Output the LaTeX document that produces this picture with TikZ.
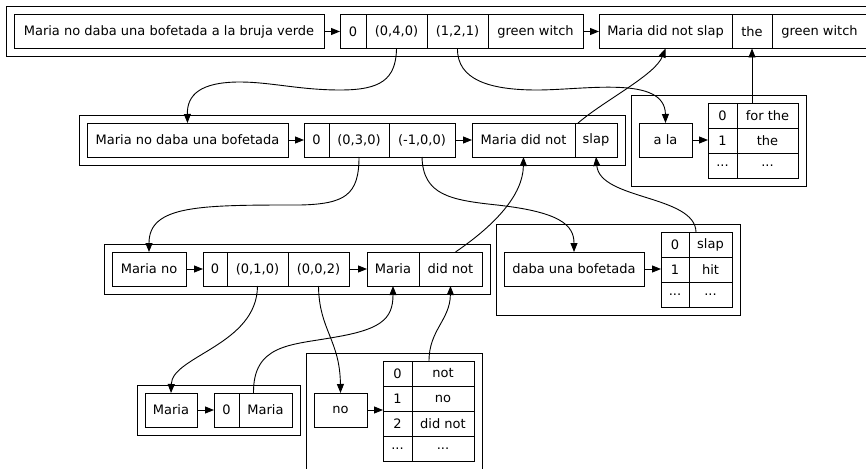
\documentclass[tikz,border=0pt]{standalone}
\usepackage{fontspec}
\setmainfont{DejaVu Sans}
\usepackage{tikz}
\usetikzlibrary{positioning,arrows.meta,fit}

\begin{document}
\begin{tikzpicture}[x=1pt,y=-1pt,
    cell/.style={draw,line width=0.9pt,outer sep=0pt,inner sep=0pt,
      minimum height=34pt,minimum width=#1pt,font=\fontsize{13}{15}\selectfont},
    tcell/.style={cell=#1,minimum height=25pt},
    group/.style={draw,line width=0.9pt,inner sep=8pt},
    edge/.style={-{Triangle[length=9pt,width=7pt]},line width=0.9pt}]
      \useasboundingbox (0,0) rectangle (866,468);
      \clip (0,0) rectangle (866,468);
      \fill[white] (0,0) rectangle (866,468);

      \node [cell=310,anchor=west] (i0) at (14,31.5) {Maria no daba una bofetada a la bruja verde};
      \node [cell=26,right=16pt of i0] (r0a) {0};
      \node [cell=61,right=0pt of r0a] (r0b) {(0,4,0)};
      \node [cell=61,right=0pt of r0b] (r0c) {(1,2,1)};
      \node [cell=95,right=0pt of r0c] (r0d) {green witch};
      \node [cell=133,right=16pt of r0d] (o0a) {Maria did not slap};
      \node [cell=40,right=0pt of o0a] (o0b) {the};
      \node [cell=95,right=0pt of o0b] (o0c) {green witch};
      \node [group,fit=(i0)(o0c)] (c0) {};

      \node [cell=201,anchor=west] (i1) at (87,140) {Maria no daba una bofetada};
      \node [cell=25,right=16pt of i1] (r1a) {0};
      \node [cell=60,right=0pt of r1a] (r1b) {(0,3,0)};
      \node [cell=66,right=0pt of r1b] (r1c) {(-1,0,0)};
      \node [cell=103,right=17pt of r1c] (o1a) {Maria did not};
      \node [cell=42,right=0pt of o1a] (o1b) {slap};
      \node [group,fit=(i1)(o1b)] (c1) {};

      \node [cell=53,anchor=west] (ala) at (639,140) {a la};
      \node [tcell=29,anchor=north west] (a00) at (708,103) {0};
      \node [tcell=61,right=0pt of a00] (a01) {for the};
      \node [tcell=29,below=0pt of a00] (a10) {1};
      \node [tcell=61,right=0pt of a10] (a11) {the};
      \node [tcell=29,below=0pt of a10] (a20) {...};
      \node [tcell=61,right=0pt of a20] (a21) {...};
      \node [group,fit=(ala)(a00)(a21)] (ca) {};

      \node [cell=74,anchor=west] (i2) at (112,269) {Maria no};
      \node [cell=24,right=17pt of i2] (r2a) {0};
      \node [cell=61,right=0pt of r2a] (r2b) {(0,1,0)};
      \node [cell=61,right=0pt of r2b] (r2c) {(0,0,2)};
      \node [cell=52,right=18pt of r2c] (o2a) {Maria};
      \node [cell=63,right=0pt of o2a] (o2b) {did not};
      \node [group,fit=(i2)(o2b)] (c2) {};

      \node [cell=140,anchor=west] (daba) at (504,269) {daba una bofetada};
      \node [tcell=28,anchor=north west] (d00) at (661,232) {0};
      \node [tcell=43,right=0pt of d00] (d01) {slap};
      \node [tcell=28,below=0pt of d00] (d10) {1};
      \node [tcell=43,right=0pt of d10] (d11) {hit};
      \node [tcell=28,below=0pt of d10] (d20) {...};
      \node [tcell=43,right=0pt of d20] (d21) {...};
      \node [group,fit=(daba)(d00)(d21)] (cd) {};

      \node [cell=52,anchor=west] (m) at (145,410) {Maria};
      \node [cell=25,right=17pt of m] (m0) {0};
      \node [cell=53,right=0pt of m0] (m1) {Maria};
      \node [group,fit=(m)(m1)] (cm) {};

      \node [cell=53,anchor=west] (no) at (314,410) {no};
      \node [tcell=29,anchor=north west] (n00) at (383,361) {0};
      \node [tcell=62,right=0pt of n00] (n01) {not};
      \node [tcell=29,below=0pt of n00] (n10) {1};
      \node [tcell=62,right=0pt of n10] (n11) {no};
      \node [tcell=29,below=0pt of n10] (n20) {2};
      \node [tcell=62,right=0pt of n20] (n21) {did not};
      \node [tcell=29,below=0pt of n20] (n30) {...};
      \node [tcell=62,right=0pt of n30] (n31) {...};
      \node [group,fit=(no)(n00)(n31)] (cn) {};

      \draw [edge] (i0) -- (r0a);
      \draw [edge] (r0d) -- (o0a);
      \draw [edge] (i1) -- (r1a);
      \draw [edge] (r1c) -- (o1a);
      \draw [edge] (i2) -- (r2a);
      \draw [edge] (r2c) -- (o2a);
      \draw [edge] (ala) -- (ala.east -| a10.west);
      \draw [edge] (daba) -- (daba.east -| d10.west);
      \draw [edge] (m) -- (m0);
      \draw [edge] (no) -- (no.east -| n00.west);

      \draw [edge] (r0b.south) .. controls (396,80) and (380,90) .. (340,90)
        .. controls (300,90) and (270,82) .. (240,82)
        .. controls (200,82) and (187,95) .. (i1.north);
      \draw [edge] (r0c.south) .. controls (457,80) and (490,90) .. (537,90)
        .. controls (585,90) and (665,75) .. (ala.north);
      \draw [edge] ([xshift=3pt]o1b.north west) .. controls (605,100) and (655,75) .. (o0a.south);
      \draw [edge] (a01.north -| o0b.south) -- (o0b.south);
      \draw [edge] (r1b.south) .. controls (359,195) and (345,204) .. (300,205)
        .. controls (200,205) and (149,205) .. (i2.north);
      \draw [edge] (r1c.south) .. controls (423,195) and (450,200) .. (497,205)
        .. controls (560,212) and (574,225) .. (daba.north);
      \draw [edge] ([xshift=5pt]o2b.north) .. controls (495,225) and (523,195) .. (o1a.south);
      \draw [edge] ([xshift=7pt]d01.north west) .. controls (695,195) and (600,200) .. (o1b.south);
      \draw [edge] (r2b.south) .. controls (257,345) and (172,356) .. (m.north);
      \draw [edge] (r2c.south) .. controls (319,330) and (340,340) .. (no.north);
      \draw [edge] ([xshift=-12pt]m1.north) .. controls (253,345) and (290,345) .. (330,338)
        .. controls (380,330) and (393,320) .. (o2a.south);
      \draw [edge] ([xshift=17pt]n01.north west) .. controls (429,330) and (450,320) .. (o2b.south);
    \end{tikzpicture}
\end{document}
